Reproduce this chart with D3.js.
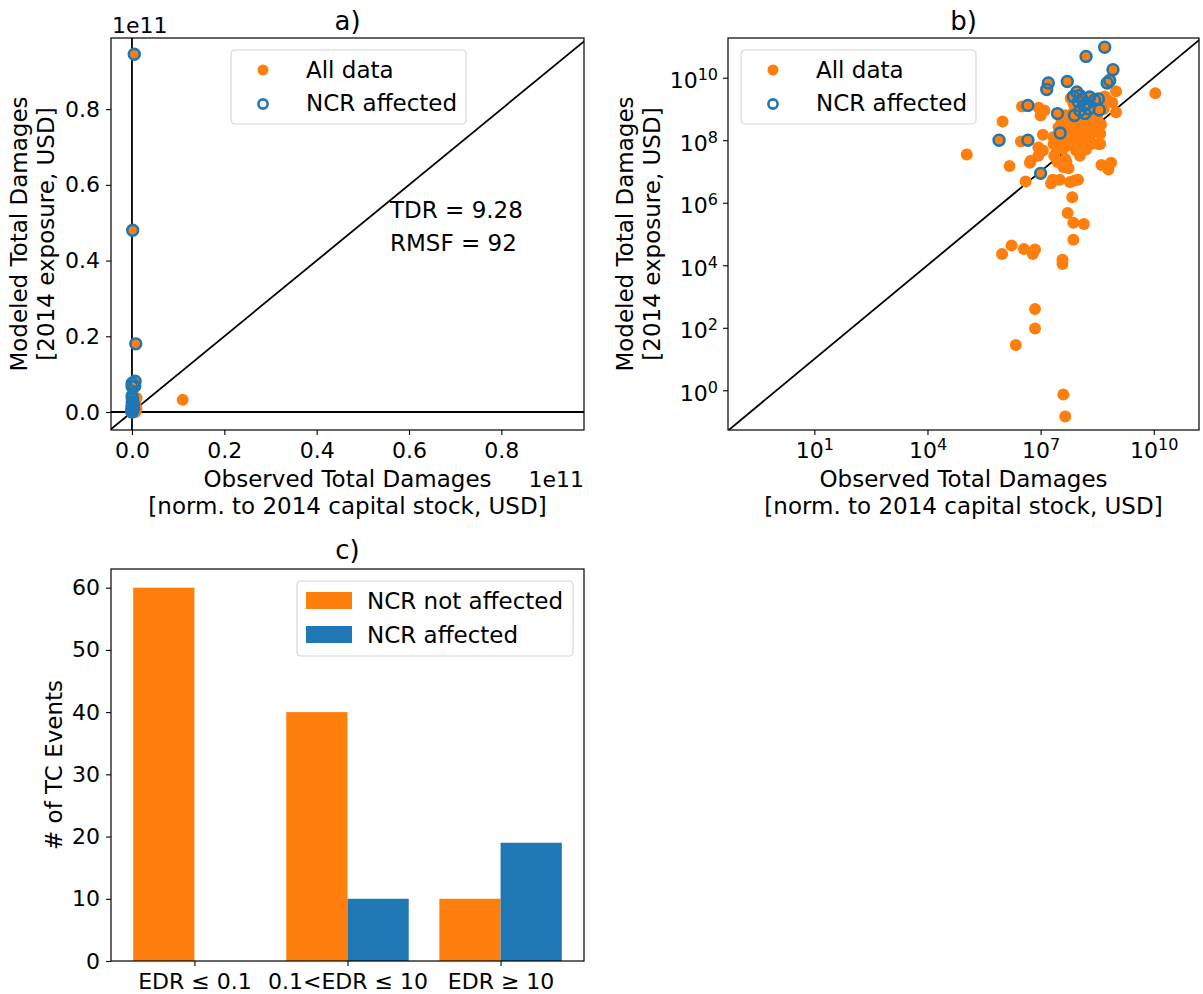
<!DOCTYPE html>
<html>
<head>
<meta charset="utf-8">
<script src="https://cdn.jsdelivr.net/npm/d3@7"></script>
<style>
  body { margin: 0; background: #fff; }
  svg text { font-family: "DejaVu Sans", sans-serif; fill: #000; }
</style>
</head>
<body>
<script>

// observed / modeled damages, all events (orange)
var obsAll = [1.1e5, 9.8e5, 1.5e6, 3.2e6, 3.0e6, 4.0e6, 5.2e6, 8.7e6, 8.7e6, 1.15e7,
  1.0e7, 1.26e7, 1.15e7, 1.9e7, 3.2e7, 2.3e7, 2.3e7, 3.9e7, 4.5e7, 4.0e7,
  5.5e7, 6.0e7, 9.8e7, 6.9e7, 5.2e7, 7.4e7, 1.4e8, 7.4e7, 9.5e5, 1.7e6,
  3.6e6, 6.2e6, 7.1e6, 3.8e7, 3.8e7, 7.1e6, 7.1e6, 2.2e6, 4.0e7, 4.5e7,
  1.1e10, 1.0e9, 1.0e9, 6.0e8, 3.8e8, 3.8e8, 4.1e8, 6.3e8, 7.4e8, 1.1e8,
  8.7e7, 1.2e8, 2.0e8, 2.5e8, 6.0e7, 4.9e7, 3.6e7, 6.0e7, 1.7e8, 3.1e8,
  4.7e8, 3.0e7, 7.4e7, 2.2e7, 1.0e8, 2.0e8, 7.4e7, 4.0e7, 5.0e7, 4.1e7,
  6.2e7, 2.2e7, 2.7e7, 9.1e7, 1.4e8, 1.7e8, 1.1e8, 2.2e8, 3.4e8, 5.0e7,
  5.5e6, 7.4e7, 1.1e8, 1.7e8, 6.0e7, 2.8e8, 2.1e7, 4.8e7, 7.9e7, 8.9e7,
  1.26e8, 1.4e8, 7.1e7, 2.0e8, 4.5e7, 1.0e8, 2.5e8, 3.5e7, 1.6e8, 2.8e7,
  8.9e6, 4.0e8, 7.9e8, 5.0e8, 6.3e7];
var modAll = [3.5e7, 4.0e8, 1.5e7, 1.2e9, 9.1e7, 4.8e6, 1.9e7, 5.8e7, 3.2e7, 4.7e7,
  6.2e8, 8.9e8, 1.5e8, 4.2e6, 5.4e6, 1.2e8, 3.2e7, 5.2e7, 2.5e7, 1.4e7,
  1.26e7, 4.6e6, 5.4e6, 1.5e6, 4.7e5, 2.3e5, 2.1e5, 6.5e4, 2.3e4, 4.3e4,
  3.3e4, 2.3e4, 3.2e4, 1.5e4, 1.1e4, 4.0e2, 95, 28, 0.74, 0.145,
  3.2e9, 3.7e9, 7.9e8, 1.9e9, 1.6e8, 7.6e7, 1.6e7, 1.15e7, 1.9e7, 3.2e7,
  4.7e7, 1.26e8, 1.26e8, 2.0e8, 2.0e8, 1.4e8, 4.3e8, 4.3e8, 3.4e8, 5.5e8,
  1.0e9, 2.6e8, 7.9e8, 7.6e7, 3.0e8, 4.9e8, 9.8e7, 9.8e7, 3.4e8, 2.0e8,
  1.26e8, 1.26e8, 5.2e7, 2.0e8, 2.6e8, 1.26e8, 8.7e7, 7.6e7, 7.6e7, 6.8e7,
  2.2e7, 1.5e9, 1.15e9, 6.2e8, 6.2e8, 2.8e8, 5.4e6, 2.0e7, 5.1e6, 4.0e8,
  5.0e8, 1.6e8, 2.8e8, 2.2e8, 6.3e8, 1.0e9, 1.0e9, 7.1e7, 5.0e7, 2.0e7,
  1.1e9, 3.2e8, 1.6e9, 2.5e9, 2.2e9];

// events where NCR was affected (blue rings, also part of all data)
var obsNcr = [5.0e8, 1.6e8, 8.3e8, 6.8e8, 5.8e8, 1.6e7, 1.45e7, 5.1e7, 9.1e7, 7.4e7,
  1.1e8, 2.0e8, 3.4e8, 2.7e8, 1.4e8, 1.1e8, 1.5e8, 7.9e7, 2.8e7, 3.6e8,
  4.6e6, 3.3e7, 7.9e5, 4.6e6, 1.7e8, 1.0e7, 1.0e8, 1.26e8, 1.9e8];
var modNcr = [9.45e10, 4.8e10, 1.8e10, 8.1e9, 6.8e9, 6.8e9, 4.2e9, 7.6e9, 3.5e9, 2.5e9,
  2.7e9, 2.4e9, 2.1e9, 1.9e9, 1.3e9, 8.9e8, 7.1e8, 6.2e8, 7.1e8, 9.3e8,
  1.3e9, 1.7e8, 1.0e8, 1.0e8, 1.5e9, 8.7e6, 1.7e9, 2.1e9, 1.0e9];

// panel a tick values (in units of 1e11) and stats
var linTicks = [0.0, 0.2, 0.4, 0.6, 0.8];
var logTicksX = [1, 4, 7, 10];
var logTicksY = [0, 2, 4, 6, 8, 10];
var statsText = ["TDR = 9.28", "RMSF = 92"];

// panel c bar chart data
var edrClasses = ["EDR \u2264 0.1", "0.1<EDR \u2264 10", "EDR \u2265 10"];
var ncrNotAffected = [60, 40, 10];
var ncrAffected = [0, 10, 19];
var countTicks = [0, 10, 20, 30, 40, 50, 60];

var orange = "#ff7f0e";
var blue = "#1f77b4";
var fontSize = 23;
var tickSize = 22;
var titleSize = 26;

var svg = d3.select("body")
            .append("svg")
            .attr("width", 1203)
            .attr("height", 994);

// builds the points list for both scatter panels
var allPoints = obsAll.map(function(d, i) { return [d, modAll[i]]; })
                      .concat(obsNcr.map(function(d, i) { return [d, modNcr[i]]; }));
var ncrPoints = obsNcr.map(function(d, i) { return [d, modNcr[i]]; });

// draws a group + clip for a panel
function makePanel(id, left, top, w, h) {
  var g = svg.append("g").attr("transform", "translate(" + left + "," + top + ")");
  svg.append("clipPath").attr("id", id)
     .append("rect").attr("width", w).attr("height", h);
  var plot = g.append("g").attr("clip-path", "url(#" + id + ")");
  return {g: g, plot: plot, w: w, h: h};
}

function styleAxis(sel) {
  sel.select(".domain").remove();
  sel.selectAll(".tick line").attr("stroke", "#000").attr("stroke-width", 1.1);
  sel.selectAll(".tick text").style("font-size", tickSize + "px").attr("fill", "#000");
}

// puts the bottom tick labels on a fixed baseline
function bottomBaseline(sel) {
  sel.selectAll(".tick text").attr("y", 28).attr("dy", 0);
}

function frame(p) {
  p.g.append("rect")
     .attr("width", p.w).attr("height", p.h)
     .attr("fill", "none").attr("stroke", "#000").attr("stroke-width", 1.2);
}

function title(p, s, y) {
  p.g.append("text").attr("x", p.w / 2).attr("y", y).attr("text-anchor", "middle")
     .style("font-size", titleSize + "px").text(s);
}

function twoLineLabel(p, lines, x, y, rotate) {
  var t = p.g.append("text")
             .attr("text-anchor", "middle")
             .style("font-size", fontSize + "px");
  if (rotate) {
    t.attr("transform", "translate(" + x + "," + y + ")rotate(-90)");
  } else {
    t.attr("transform", "translate(" + x + "," + y + ")");
  }
  lines.forEach(function(l, i) {
    t.append("tspan").attr("x", 0).attr("dy", i == 0 ? 0 : 27).text(l);
  });
}

function scatterLegend(p, x, y) {
  var lg = p.g.append("g").attr("transform", "translate(" + x + "," + y + ")");
  lg.append("rect").attr("width", 235).attr("height", 74).attr("rx", 4)
    .attr("fill", "#fff").attr("fill-opacity", 0.8)
    .attr("stroke", "#d6d6d6").attr("stroke-width", 1.2);
  lg.append("circle").attr("cx", 32).attr("cy", 20).attr("r", 5.5).attr("fill", orange);
  lg.append("circle").attr("cx", 32).attr("cy", 54).attr("r", 4.6)
    .attr("fill", "none").attr("stroke", blue).attr("stroke-width", 2.6);
  lg.append("text").attr("x", 75).attr("y", 28).style("font-size", fontSize + "px").text("All data");
  lg.append("text").attr("x", 75).attr("y", 61).style("font-size", fontSize + "px").text("NCR affected");
}

function drawPoints(p, x, y) {
  p.plot.selectAll("circle.all")
        .data(allPoints).enter()
        .append("circle").attr("class", "all")
        .attr("cx", function(d) { return x(d[0]); })
        .attr("cy", function(d) { return y(d[1]); })
        .attr("r", 6)
        .attr("fill", orange);
  p.plot.selectAll("circle.ncr")
        .data(ncrPoints).enter()
        .append("circle").attr("class", "ncr")
        .attr("cx", function(d) { return x(d[0]); })
        .attr("cy", function(d) { return y(d[1]); })
        .attr("r", 5.4)
        .attr("fill", "none")
        .attr("stroke", blue)
        .attr("stroke-width", 2.6);
}

// ---------- panel a: linear ----------
var pa = makePanel("clipA", 111, 38, 473, 392);
var xa = d3.scaleLinear().domain([-0.0454e11, 0.979e11]).range([0, pa.w]);
var ya = d3.scaleLinear().domain([-0.0476e11, 0.988e11]).range([pa.h, 0]);

pa.plot.append("line").attr("x1", xa(-1e11)).attr("y1", ya(-1e11))
       .attr("x2", xa(2e11)).attr("y2", ya(2e11))
       .attr("stroke", "#000").attr("stroke-width", 1.8);
pa.plot.append("line").attr("x1", 0).attr("x2", pa.w).attr("y1", ya(0)).attr("y2", ya(0))
       .attr("stroke", "#000").attr("stroke-width", 1.8);
pa.plot.append("line").attr("y1", 0).attr("y2", pa.h).attr("x1", xa(0)).attr("x2", xa(0))
       .attr("stroke", "#000").attr("stroke-width", 1.8);

drawPoints(pa, xa, ya);

pa.g.append("g").attr("transform", "translate(0," + pa.h + ")")
    .call(d3.axisBottom(xa).tickValues(linTicks.map(function(v) { return v * 1e11; }))
            .tickSize(5).tickPadding(6).tickFormat(function(v) { return (v / 1e11).toFixed(1); }))
    .call(styleAxis)
    .call(bottomBaseline);
pa.g.append("g")
    .call(d3.axisLeft(ya).tickValues(linTicks.map(function(v) { return v * 1e11; }))
            .tickSize(5).tickPadding(6).tickFormat(function(v) { return (v / 1e11).toFixed(1); }))
    .call(styleAxis);
frame(pa);

pa.g.append("text").attr("x", 1).attr("y", -5).style("font-size", tickSize + "px").text("1e11");
pa.g.append("text").attr("x", pa.w).attr("y", 449).attr("text-anchor", "end")
    .style("font-size", tickSize + "px").text("1e11");
title(pa, "a)", -8);

statsText.forEach(function(s, i) {
  pa.g.append("text").attr("x", 279).attr("y", 180 + 33 * i)
      .style("font-size", fontSize + "px").text(s);
});

twoLineLabel(pa, ["Observed Total Damages", "[norm. to 2014 capital stock, USD]"], pa.w / 2, 449, false);
twoLineLabel(pa, ["Modeled Total Damages", "[2014 exposure, USD]"], -84, pa.h / 2, true);
scatterLegend(pa, 120, 12);

// ---------- panel b: log-log ----------
var pb = makePanel("clipB", 728, 38, 471, 392);
var xb = d3.scaleLog().domain([Math.pow(10, -1.29), Math.pow(10, 11.2)]).range([0, pb.w]);
var yb = d3.scaleLog().domain([Math.pow(10, -1.27), Math.pow(10, 11.27)]).range([pb.h, 0]);

pb.plot.append("line").attr("x1", xb(1e-3)).attr("y1", yb(1e-3))
       .attr("x2", xb(1e13)).attr("y2", yb(1e13))
       .attr("stroke", "#000").attr("stroke-width", 1.8);

drawPoints(pb, xb, yb);

// writes log tick labels as 10 with a raised exponent
function powLabels(sel) {
  sel.selectAll(".tick text").each(function(v) {
    var t = d3.select(this);
    var e = Math.round(Math.log10(v));
    t.text("");
    t.append("tspan").text("10");
    t.append("tspan").attr("dy", "-0.5em").style("font-size", "16px").text(e);
  });
}

pb.g.append("g").attr("transform", "translate(0," + pb.h + ")")
    .call(d3.axisBottom(xb).tickValues(logTicksX.map(function(e) { return Math.pow(10, e); }))
            .tickSize(5).tickPadding(6))
    .call(styleAxis)
    .call(powLabels)
    .call(bottomBaseline);
pb.g.append("g")
    .call(d3.axisLeft(yb).tickValues(logTicksY.map(function(e) { return Math.pow(10, e); }))
            .tickSize(5).tickPadding(5))
    .call(styleAxis)
    .call(powLabels);
pb.g.selectAll(".tick text").attr("dy", function() {
  return d3.select(this).attr("dy") == "0" ? 0 : "0.45em";
});
frame(pb);

title(pb, "b)", -8);
twoLineLabel(pb, ["Observed Total Damages", "[norm. to 2014 capital stock, USD]"], pb.w / 2, 449, false);
twoLineLabel(pb, ["Modeled Total Damages", "[2014 exposure, USD]"], -95, pb.h / 2, true);
scatterLegend(pb, 13, 12);

// ---------- panel c: bars ----------
var pc = makePanel("clipC", 111, 569, 473, 392);
var xc = d3.scaleLinear().domain([-0.545, 2.545]).range([0, pc.w]);
var yc = d3.scaleLinear().domain([0, 63]).range([pc.h, 0]);
var barW = 0.4;

pc.plot.selectAll("rect.na")
       .data(ncrNotAffected).enter()
       .append("rect").attr("class", "na")
       .attr("x", function(d, i) { return xc(i - barW); })
       .attr("width", xc(barW) - xc(0))
       .attr("y", function(d) { return yc(d); })
       .attr("height", function(d) { return yc(0) - yc(d); })
       .attr("fill", orange);
pc.plot.selectAll("rect.af")
       .data(ncrAffected).enter()
       .append("rect").attr("class", "af")
       .attr("x", function(d, i) { return xc(i); })
       .attr("width", xc(barW) - xc(0))
       .attr("y", function(d) { return yc(d); })
       .attr("height", function(d) { return yc(0) - yc(d); })
       .attr("fill", blue);

pc.g.append("g").attr("transform", "translate(0," + pc.h + ")")
    .call(d3.axisBottom(xc).tickValues([0, 1, 2]).tickSize(5).tickPadding(6)
            .tickFormat(function(v) { return edrClasses[v]; }))
    .call(styleAxis)
    .call(bottomBaseline);
pc.g.append("g")
    .call(d3.axisLeft(yc).tickValues(countTicks).tickSize(5).tickPadding(6))
    .call(styleAxis);
frame(pc);

title(pc, "c)", -10);
pc.g.append("text").attr("text-anchor", "middle")
    .attr("transform", "translate(-49," + pc.h / 2 + ")rotate(-90)")
    .style("font-size", fontSize + "px").text("# of TC Events");

// legend for the bars
var lc = pc.g.append("g").attr("transform", "translate(186,12)");
lc.append("rect").attr("width", 276).attr("height", 75).attr("rx", 4)
  .attr("fill", "#fff").attr("fill-opacity", 0.8)
  .attr("stroke", "#d6d6d6").attr("stroke-width", 1.2);
[["NCR not affected", orange], ["NCR affected", blue]].forEach(function(e, i) {
  lc.append("rect").attr("x", 9).attr("y", 11 + 34 * i).attr("width", 46).attr("height", 17).attr("fill", e[1]);
  lc.append("text").attr("x", 70).attr("y", 28 + 34 * i).style("font-size", fontSize + "px").text(e[0]);
});

</script>
</body>
</html>
